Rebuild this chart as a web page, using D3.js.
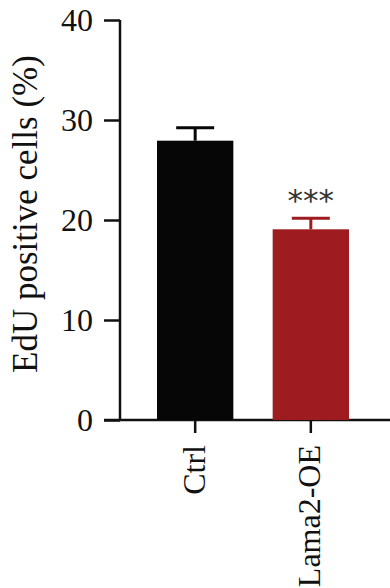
<!DOCTYPE html>
<html>
<head>
<meta charset="utf-8">
<script src="https://cdn.jsdelivr.net/npm/d3@7"></script>
<style>
  body { margin: 0; background: #fff; }
  svg { display: block; }
  .axis path, .axis line { stroke: #111; stroke-width: 2.5px; }
  .axis text { font-family: "Liberation Serif", "Times New Roman", serif; font-size: 32px; fill: #111; }
</style>
</head>
<body>
<svg id="chart" width="390" height="588"></svg>
<script>
const groups = ['Ctrl', 'Lama2-OE'];
const means = [27.93, 19.07];
const errors = [1.3, 1.1];
const barColors = ['#060606', '#9e1c20'];
const yTicks = [0, 10, 20, 30, 40];
const marks = ['', '***'];

const svg = d3.select('#chart');
const axisX = 120;

const y = d3.scaleLinear().domain([0, 40]).range([420, 20]);
const x = d3.scaleBand().domain(groups).range([120, 386]).paddingInner(0.34).paddingOuter(0.32);

// y axis
const yAxis = svg.append('g')
  .attr('class', 'axis')
  .attr('transform', `translate(${axisX},0)`)
  .call(d3.axisLeft(y).tickValues(yTicks).tickSize(16).tickPadding(11).tickSizeOuter(0));
yAxis.select('.domain').attr('d', `M0,${y(40)}V${y(0)}`);

// x axis
const xAxis = svg.append('g')
  .attr('class', 'axis')
  .attr('transform', `translate(0,${y(0)})`)
  .call(d3.axisBottom(x).tickSize(13).tickSizeOuter(0));
xAxis.select('.domain').attr('d', 'M104,0H390');
xAxis.selectAll('text')
  .attr('transform', 'rotate(-90)')
  .attr('text-anchor', 'end')
  .attr('x', -25)
  .attr('y', 0)
  .attr('dy', '0.3em');

// bars
svg.selectAll('.bar')
  .data(groups)
  .enter().append('rect')
  .attr('class', 'bar')
  .attr('x', d => x(d))
  .attr('width', x.bandwidth())
  .attr('y', (d, i) => y(means[i]))
  .attr('height', (d, i) => y(0) - y(means[i]))
  .attr('fill', (d, i) => barColors[i]);

// error bars (upper only)
const eb = svg.selectAll('.err')
  .data(groups)
  .enter().append('g')
  .attr('class', 'err')
  .attr('stroke', (d, i) => barColors[i])
  .attr('stroke-width', 3);
eb.append('line')
  .attr('x1', d => x(d) + x.bandwidth() / 2)
  .attr('x2', d => x(d) + x.bandwidth() / 2)
  .attr('y1', (d, i) => y(means[i]))
  .attr('y2', (d, i) => y(means[i] + errors[i]));
eb.append('line')
  .attr('x1', d => x(d) + x.bandwidth() / 2 - 19)
  .attr('x2', d => x(d) + x.bandwidth() / 2 + 19)
  .attr('y1', (d, i) => y(means[i] + errors[i]))
  .attr('y2', (d, i) => y(means[i] + errors[i]));

// significance marks
svg.selectAll('.sig')
  .data(groups)
  .enter().append('text')
  .attr('class', 'sig')
  .attr('x', d => x(d) + x.bandwidth() / 2)
  .attr('y', (d, i) => y(means[i] + errors[i]) - 7)
  .attr('text-anchor', 'middle')
  .attr('font-family', '"DejaVu Sans", sans-serif')
  .attr('font-size', 31)
  .attr('fill', '#333')
  .text((d, i) => marks[i]);

// y label
svg.append('text')
  .attr('transform', `translate(37,214) rotate(-90)`)
  .attr('text-anchor', 'middle')
  .attr('font-family', '"Liberation Serif", "Times New Roman", serif')
  .attr('font-size', 35)
  .attr('fill', '#111')
  .text('EdU positive cells (%)');
</script>
</body>
</html>
